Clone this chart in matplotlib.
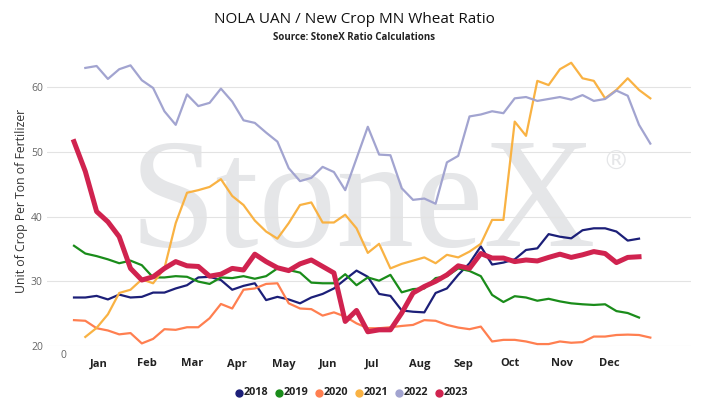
import matplotlib
matplotlib.use("Agg")
import matplotlib.pyplot as plt
from matplotlib.lines import Line2D

# weekly ratio values
y2018 = [27.5, 27.5, 27.75, 27.2, 27.95, 27.5, 27.6, 28.26, 28.26, 28.9, 29.4, 30.6, 30.7, 30.2, 28.7,
         29.3, 29.7, 27.1, 27.6, 27.2, 26.6, 27.5, 28.05, 28.9, 30.3, 31.66, 30.7, 28.05, 27.75, 25.5,
         25.3, 25.2, 28.2, 28.9, 31.0, 32.8, 35.4, 32.6, 32.9, 33.4, 34.85, 35.1, 37.3, 36.9, 36.65,
         37.9, 38.2, 38.2, 37.7, 36.3, 36.6]
y2019 = [35.5, 34.3, 33.9, 33.4, 32.8, 33.2, 32.5, 30.6, 30.6, 30.8, 30.7, 29.96, 29.6, 30.6, 30.5,
         30.8, 30.4, 30.8, 32.0, 31.75, 31.35, 29.8, 29.7, 29.7, 31.1, 29.4, 30.6, 30.1, 31.0, 28.3,
         28.8, 28.9, 30.5, 30.8, 32.0, 31.6, 30.8, 27.9, 26.8, 27.7, 27.5, 27.0, 27.3, 26.9, 26.6,
         26.45, 26.35, 26.45, 25.4, 25.1, 24.4]
y2020 = [24.0, 23.9, 22.75, 22.4, 21.8, 22.0, 20.4, 21.1, 22.6, 22.5, 22.9, 22.9, 24.3, 26.5, 25.8,
         28.7, 28.9, 29.6, 29.7, 26.6, 25.8, 25.7, 24.7, 25.2, 24.55, 23.5, 22.75, 22.75, 22.9, 23.1,
         23.26, 24.0, 23.9, 23.26, 22.85, 22.6, 23.0, 20.7, 20.95, 20.95, 20.7, 20.3, 20.3, 20.7, 20.5,
         20.6, 21.46, 21.46, 21.7, 21.76, 21.7, 21.3]
y2021 = [21.4, 22.8, 24.9, 28.2, 28.7, 30.3, 29.7, 32.0, 39.0, 43.7, 44.1, 44.6, 45.8, 43.2, 41.8,
         39.4, 37.7, 36.6, 39.0, 41.8, 42.2, 39.1, 39.1, 40.3, 38.2, 34.4, 35.8, 32.0, 32.7, 33.2,
         33.7, 32.8, 34.1, 33.7, 34.6, 35.8, 39.5, 39.5, 54.7, 52.5, 61.0, 60.35, 62.8, 63.8, 61.4,
         61.0, 58.3, 59.6, 61.4, 59.6, 58.3]
y2022 = [63.0, 63.3, 61.3, 62.8, 63.4, 61.1, 59.9, 56.3, 54.2, 58.9, 57.1, 57.6, 59.8, 57.8, 54.9,
         54.5, 53.0, 51.6, 47.5, 45.5, 46.0, 47.7, 46.9, 44.1, 49.0, 53.9, 49.6, 49.5, 44.4, 42.6,
         42.8, 42.0, 48.4, 49.4, 55.5, 55.8, 56.3, 56.0, 58.3, 58.5, 57.9, 58.2, 58.5, 58.1, 58.8,
         57.9, 58.2, 59.5, 58.7, 54.2, 51.3]
y2023 = [51.6, 47.0, 40.8, 39.2, 36.9, 32.0, 30.2, 30.7, 32.0, 33.05, 32.4, 32.3, 30.8, 31.1, 32.0,
         31.75, 34.2, 33.05, 32.1, 31.66, 32.7, 33.3, 32.3, 31.3, 23.8, 25.5, 22.2, 22.5, 22.5, 25.1,
         28.2, 29.2, 30.0, 31.0, 32.4, 32.0, 34.3, 33.6, 33.6, 33.05, 33.3, 33.15, 33.7, 34.2, 33.7,
         34.1, 34.6, 34.3, 32.9, 33.7, 33.8]

years = ["2018", "2019", "2020", "2021", "2022", "2023"]
first_week = [0, 0, 0, 1, 1, 0]   # 2021 and 2022 start a week later
colors = ["#1c1f78", "#1a8c1a", "#ff7f50", "#f9b243", "#a2a4d0", "#d0234f"]
widths = [1.6, 1.6, 1.6, 1.6, 1.6, 3.6]

months = ["Jan", "Feb", "Mar", "Apr", "May", "Jun", "Jul", "Aug", "Sep", "Oct", "Nov", "Dec"]
month_pos = [2.15, 6.43, 10.5, 14.45, 18.6, 22.5, 26.4, 30.6, 34.5, 38.6, 43.2, 47.4]
y_ticks = [20, 30, 40, 50, 60]

W, H = 714, 416
fig = plt.figure(figsize=(W / 100, H / 100), dpi=100)
ax = fig.add_axes([47 / W, 70 / H, 644 / W, 291 / H])

# StoneX watermark
ax.text(0.491, 0.345, "StoneX", transform=ax.transAxes, ha="center", va="baseline",
        family="Liberation Serif", fontsize=112, color="#e5e6e8", zorder=0)
ax.text(0.883, 0.63, "\u00ae", transform=ax.transAxes, ha="center", va="center",
        family="DejaVu Sans", fontsize=19, color="#e5e6e8", zorder=0)

series = [y2018, y2019, y2020, y2021, y2022, y2023]
for vals, start, c, lw in zip(series, first_week, colors, widths):
    weeks = list(range(start, start + len(vals)))
    ax.plot(weeks, vals, color=c, lw=lw, solid_joinstyle="round", zorder=3)

ax.set_xlim(-2.39, 54.6)
ax.set_ylim(20, 65)
ax.set_yticks(y_ticks)
ax.set_yticklabels([str(t) for t in y_ticks], family="Open Sans", fontsize=7.5, color="#666666")
ax.set_xticks(month_pos)
ax.set_xticklabels(months, family="Open Sans", fontsize=8, weight="bold", color="#222222")
ax.tick_params(axis="both", length=0)
ax.tick_params(axis="x", pad=9)
ax.tick_params(axis="y", pad=3)
ax.grid(axis="y", color="#e3e3e3", lw=0.8, zorder=1)
ax.set_axisbelow(True)
for s in ax.spines.values():
    s.set_visible(False)

fig.text(63 / W, 1 - 355 / H, "0", ha="center", va="center", family="Open Sans",
         fontsize=7.5, color="#666666")
fig.text(22 / W, 1 - 201 / H, "Unit of Crop Per Ton of Fertilizer", rotation=90, ha="center",
         va="center", family="Open Sans", fontsize=8.8, color="#333333")
fig.text(354 / W, 1 - 19.5 / H, "NOLA UAN / New Crop MN Wheat Ratio", ha="center", va="center",
         family="Open Sans", fontsize=11, color="#111111")
fig.text(354 / W, 1 - 37.5 / H, "Source: StoneX Ratio Calculations", ha="center", va="center",
         family="Open Sans", fontsize=7, weight="bold", color="#222222")

# legend drawn by hand at the bottom
for i, (yr, c) in enumerate(zip(years, colors)):
    x0 = (239 + 40 * i) / W
    y0 = 1 - 392.5 / H
    fig.add_artist(Line2D([x0], [y0], marker="o", ms=5, color=c, lw=0,
                          transform=fig.transFigure))
    fig.text(x0 + 5 / W, y0, yr, ha="left", va="center", family="Open Sans",
             fontsize=7.8, weight="bold", color="#222222")

fig.savefig("out.png", dpi=100)
